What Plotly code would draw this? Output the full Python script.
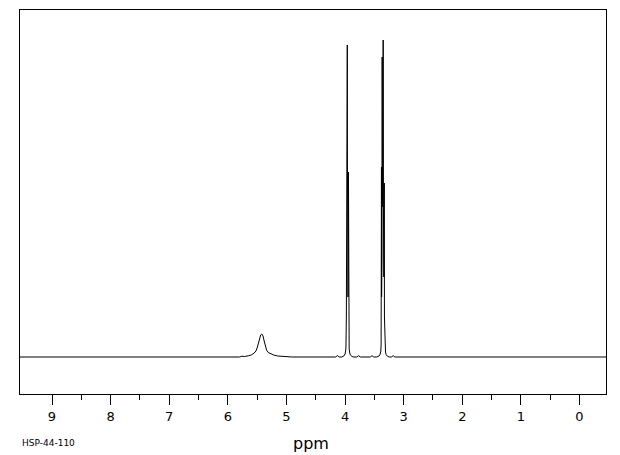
import plotly.graph_objects as go

# Spectrum (chemical shift in ppm, relative intensity)
ppm = [9.55, 6.00, 5.80, 5.76, 5.72, 5.65, 5.60, 5.55, 5.52, 5.50, 5.48, 5.46, 5.44, 5.42,
       5.40, 5.38, 5.36, 5.34, 5.31, 5.27, 5.22, 5.15, 5.08, 5.05, 4.90,
       4.16, 4.13, 4.10,
       4.06, 4.02, 4.00, 3.990, 3.985, 3.978, 3.976, 3.974, 3.968, 3.964, 3.962, 3.960,
       3.955, 3.950, 3.944, 3.942, 3.940, 3.935, 3.930, 3.920, 3.910, 3.880, 3.850,
       3.80, 3.77, 3.74, 3.57, 3.54, 3.51,
       3.46, 3.42, 3.40, 3.390, 3.385, 3.381, 3.379, 3.377, 3.370, 3.367, 3.362, 3.355,
       3.350, 3.345, 3.338, 3.331, 3.328, 3.320, 3.310, 3.300, 3.280, 3.250,
       3.21, 3.18, 3.15, -0.50]
intensity = [0, 0, 0, 0.8, 0.5, 1.2, 2, 4, 6, 9, 13, 18, 22, 23,
             21, 16, 11, 7, 4.5, 3, 2, 1, 0.8, 0.3, 0,
             0, 1.5, 0,
             0, 1, 3, 6, 10, 40, 174, 40, 60, 200, 312, 200,
             80, 60, 100, 185, 60, 20, 8, 4, 2, 0.5, 0,
             0, 1.3, 0, 0, 1.3, 0,
             0, 1, 3, 6, 12, 60, 190, 60, 100, 300, 150, 180,
             317, 150, 80, 174, 40, 12, 5, 2.5, 1, 0,
             0, 1.3, 0, 0]

x_ticks = [9, 8, 7, 6, 5, 4, 3, 2, 1, 0]
x_tick_labels = ["9", "8", "7", "6", "5", "4", "3", "2", "1", "0"]
x_minor_ticks = [8.5, 7.5, 6.5, 5.5, 4.5, 3.5, 2.5, 1.5, 0.5]

fig = go.Figure()
fig.add_trace(go.Scatter(x=ppm, y=intensity, mode="lines",
                         line=dict(color="black", width=1), hoverinfo="skip"))

fig.update_layout(
    width=612, height=447,
    margin=dict(l=12, r=14, t=2, b=61),
    paper_bgcolor="white", plot_bgcolor="white",
    showlegend=False,
    font=dict(family="DejaVu Sans", color="black"),
    xaxis=dict(range=[9.546, -0.452], tickmode="array", tickvals=x_ticks,
               ticktext=x_tick_labels, ticks="outside", ticklen=10, tickwidth=1,
               tickcolor="black", showgrid=False, zeroline=False,
               showline=True, linecolor="black", linewidth=1, mirror=True,
               tickfont=dict(size=13, color="black"),
               minor=dict(tickmode="array", tickvals=x_minor_ticks, ticks="outside",
                          ticklen=5, tickwidth=1, tickcolor="black", showgrid=False)),
    yaxis=dict(range=[-37, 347], showticklabels=False, ticks="", showgrid=False,
               zeroline=False, showline=True, linecolor="black", linewidth=1,
               mirror=True),
    annotations=[
        dict(text="ppm", xref="paper", yref="paper", x=0.497, y=-0.130,
             showarrow=False, font=dict(size=16, color="black"),
             xanchor="center", yanchor="middle"),
        dict(text="HSP-44-110", xref="paper", yref="paper", x=0.0, y=-0.128,
             showarrow=False, font=dict(size=9, color="black"),
             xanchor="left", yanchor="middle"),
    ],
)

fig.write_html("out.html")
